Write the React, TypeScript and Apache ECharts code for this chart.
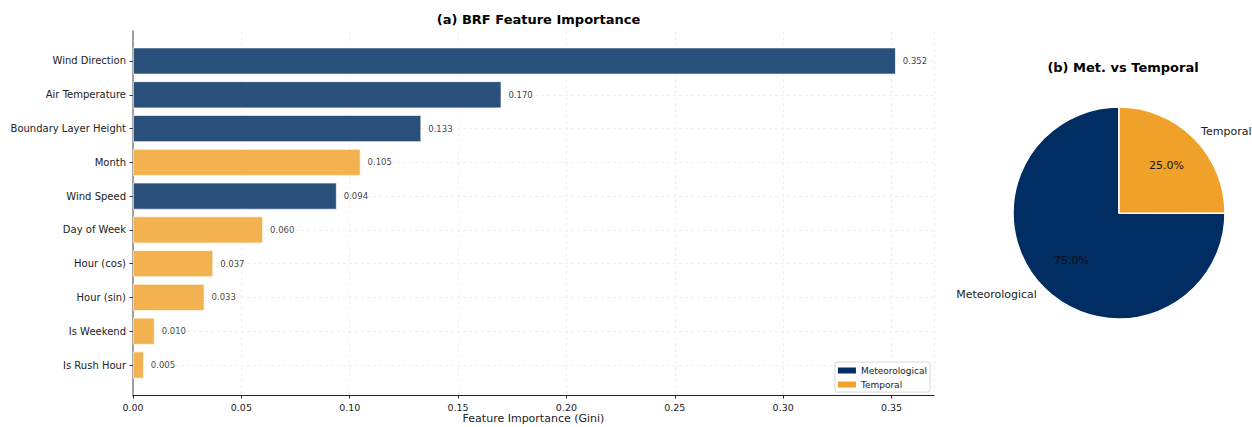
import React, { useEffect, useRef } from "react";
import * as echarts from "echarts";

// Feature importances (Gini) from the balanced random forest, top to bottom
const features = [
  "Wind Direction",
  "Air Temperature",
  "Boundary Layer Height",
  "Month",
  "Wind Speed",
  "Day of Week",
  "Hour (cos)",
  "Hour (sin)",
  "Is Weekend",
  "Is Rush Hour",
];
const importance = [0.352, 0.17, 0.133, 0.105, 0.094, 0.06, 0.037, 0.033, 0.01, 0.005];
const group = ["met", "met", "met", "tmp", "met", "tmp", "tmp", "tmp", "tmp", "tmp"];
const xTicks = [0, 0.05, 0.1, 0.15, 0.2, 0.25, 0.3, 0.35];
const groupNames = ["Meteorological", "Temporal"];

const NAVY = "#002D62";
const ORANGE = "#F0A12A";
const FONT = "DejaVu Sans";

export default function App() {
  const ref = useRef<HTMLDivElement>(null);

  useEffect(() => {
    if (!ref.current) return;
    const chart = echarts.init(ref.current, undefined, { renderer: "svg" });

    const xMax = Math.max(...importance) * 1.05;
    const metData = importance.map((v, i) => (group[i] === "met" ? v : null));
    const tmpData = importance.map((v, i) => (group[i] === "tmp" ? v : null));
    const metSum = importance.reduce((s, v, i) => s + (group[i] === "met" ? v : 0), 0);
    const tmpSum = importance.reduce((s, v, i) => s + (group[i] === "tmp" ? v : 0), 0);
    const pieData = [
      { name: groupNames[0], value: metSum, itemStyle: { color: NAVY } },
      { name: groupNames[1], value: tmpSum, itemStyle: { color: ORANGE } },
    ];

    const barLabel = {
      show: true,
      position: "right" as const,
      distance: 7,
      fontSize: 8.5,
      fontFamily: FONT,
      color: "#111",
      formatter: (p: any) => Number(p.value).toFixed(3),
    };
    const gridLine = { show: true, lineStyle: { color: "#ededed", type: [3, 3] as any, width: 0.8 } };

    chart.setOption({
      animation: false,
      textStyle: { fontFamily: FONT },
      title: [
        {
          text: "(a) BRF Feature Importance",
          left: 533.5,
          top: 8,
          textAlign: "center",
          textStyle: { fontSize: 13, fontWeight: "bold", color: "#000", fontFamily: FONT },
        },
        {
          text: "(b) Met. vs Temporal",
          left: 1118,
          top: 56,
          textAlign: "center",
          textStyle: { fontSize: 13, fontWeight: "bold", color: "#000", fontFamily: FONT },
        },
      ],
      legend: {
        data: groupNames.map((n, i) => ({ name: n, itemStyle: { color: i === 0 ? NAVY : ORANGE, opacity: 1, borderWidth: 0 } })),
        orient: "vertical",
        right: 322,
        bottom: 35,
        itemWidth: 18,
        itemHeight: 6,
        itemGap: 5,
        icon: "rect",
        padding: [4, 3, 3, 3],
        backgroundColor: "#fff",
        borderColor: "#d8d8d8",
        borderWidth: 1,
        borderRadius: 2,
        selectedMode: false,
        textStyle: { fontSize: 9, color: "#222", fontFamily: FONT },
      },
      grid: [
        { left: 133, right: 318, top: 31, bottom: 32, outerBoundsMode: "none", containLabel: false },
        { left: 133, right: 318, top: 44.1, bottom: 45.1, outerBoundsMode: "none", containLabel: false },
      ],
      xAxis: [
        {
          type: "value",
          gridIndex: 0,
          min: 0,
          max: xMax,
          interval: 0.05,
          axisLine: { show: true, lineStyle: { color: "#222", width: 1.2 } },
          axisTick: { show: true, length: 3.5, lineStyle: { color: "#222" } },
          axisLabel: {
            fontSize: 9.5,
            color: "#222",
            margin: 7,
            showMaxLabel: false,
            formatter: (v: number) => (xTicks.some((t) => Math.abs(t - v) < 1e-9) ? v.toFixed(2) : ""),
          },
          splitLine: gridLine,
          name: "Feature Importance (Gini)",
          nameLocation: "middle",
          nameGap: 18,
          nameMoveOverlap: false,
          nameTextStyle: { fontSize: 11, color: "#222", fontFamily: FONT, verticalAlign: "top" },
        },
        {
          type: "value",
          gridIndex: 1,
          min: 0,
          max: xMax,
          show: false,
        },
      ],
      yAxis: [
        {
          type: "value",
          gridIndex: 0,
          min: 0,
          max: 1,
          axisLine: { show: true, lineStyle: { color: "#8a8a8a", width: 1.6 } },
          axisTick: { show: false },
          axisLabel: { show: false },
          splitLine: { show: false },
        },
        {
          type: "category",
          gridIndex: 1,
          data: features,
          inverse: true,
          axisLine: { show: false },
          axisTick: { show: true, alignWithLabel: true, length: 3.5, lineStyle: { color: "#333" } },
          axisLabel: { fontSize: 10, color: "#222", margin: 7 },
          splitLine: { ...gridLine, alignWithLabel: true },
        },
      ],
      series: [
        {
          name: groupNames[0],
          type: "bar",
          xAxisIndex: 1,
          yAxisIndex: 1,
          data: metData,
          barWidth: "80%",
          barGap: "-100%",
          itemStyle: { color: NAVY, opacity: 0.84, borderColor: "#fff", borderWidth: 0.8 },
          label: barLabel,
          silent: true,
        },
        {
          name: groupNames[1],
          type: "bar",
          xAxisIndex: 1,
          yAxisIndex: 1,
          data: tmpData,
          barWidth: "80%",
          barGap: "-100%",
          itemStyle: { color: ORANGE, opacity: 0.82, borderColor: "#fff", borderWidth: 0.8 },
          label: barLabel,
          silent: true,
        },
        {
          name: "share",
          type: "pie",
          center: [1119, 213],
          radius: [0, 106],
          clockwise: false,
          startAngle: 90,
          data: pieData,
          silent: true,
          itemStyle: { borderColor: "#fff", borderWidth: 1.5 },
          label: {
            show: true,
            position: "outside",
            formatter: "{b}",
            fontSize: 11,
            color: "#222",
            fontFamily: FONT,
            overflow: "none",
            distanceToLabelLine: 0,
          },
          labelLine: { show: false, length: 10, length2: 0 },
          emphasis: { disabled: true },
        },
        {
          name: "pct",
          type: "pie",
          center: [1119, 213],
          radius: [0, 128],
          clockwise: false,
          startAngle: 90,
          data: pieData.map((d) => ({ name: d.name, value: d.value })),
          silent: true,
          itemStyle: { color: "rgba(0,0,0,0)", borderWidth: 0 },
          label: {
            show: true,
            position: "inside",
            formatter: (p: any) => p.percent.toFixed(1) + "%",
            fontSize: 11,
            color: "#111",
            fontFamily: FONT,
          },
          labelLine: { show: false },
          emphasis: { disabled: true },
        },
      ],
    });

    return () => chart.dispose();
  }, []);

  return (
    <div
      ref={ref}
      style={{ position: "fixed", left: 0, top: 0, width: 1252, height: 427, background: "#fff" }}
    />
  );
}
